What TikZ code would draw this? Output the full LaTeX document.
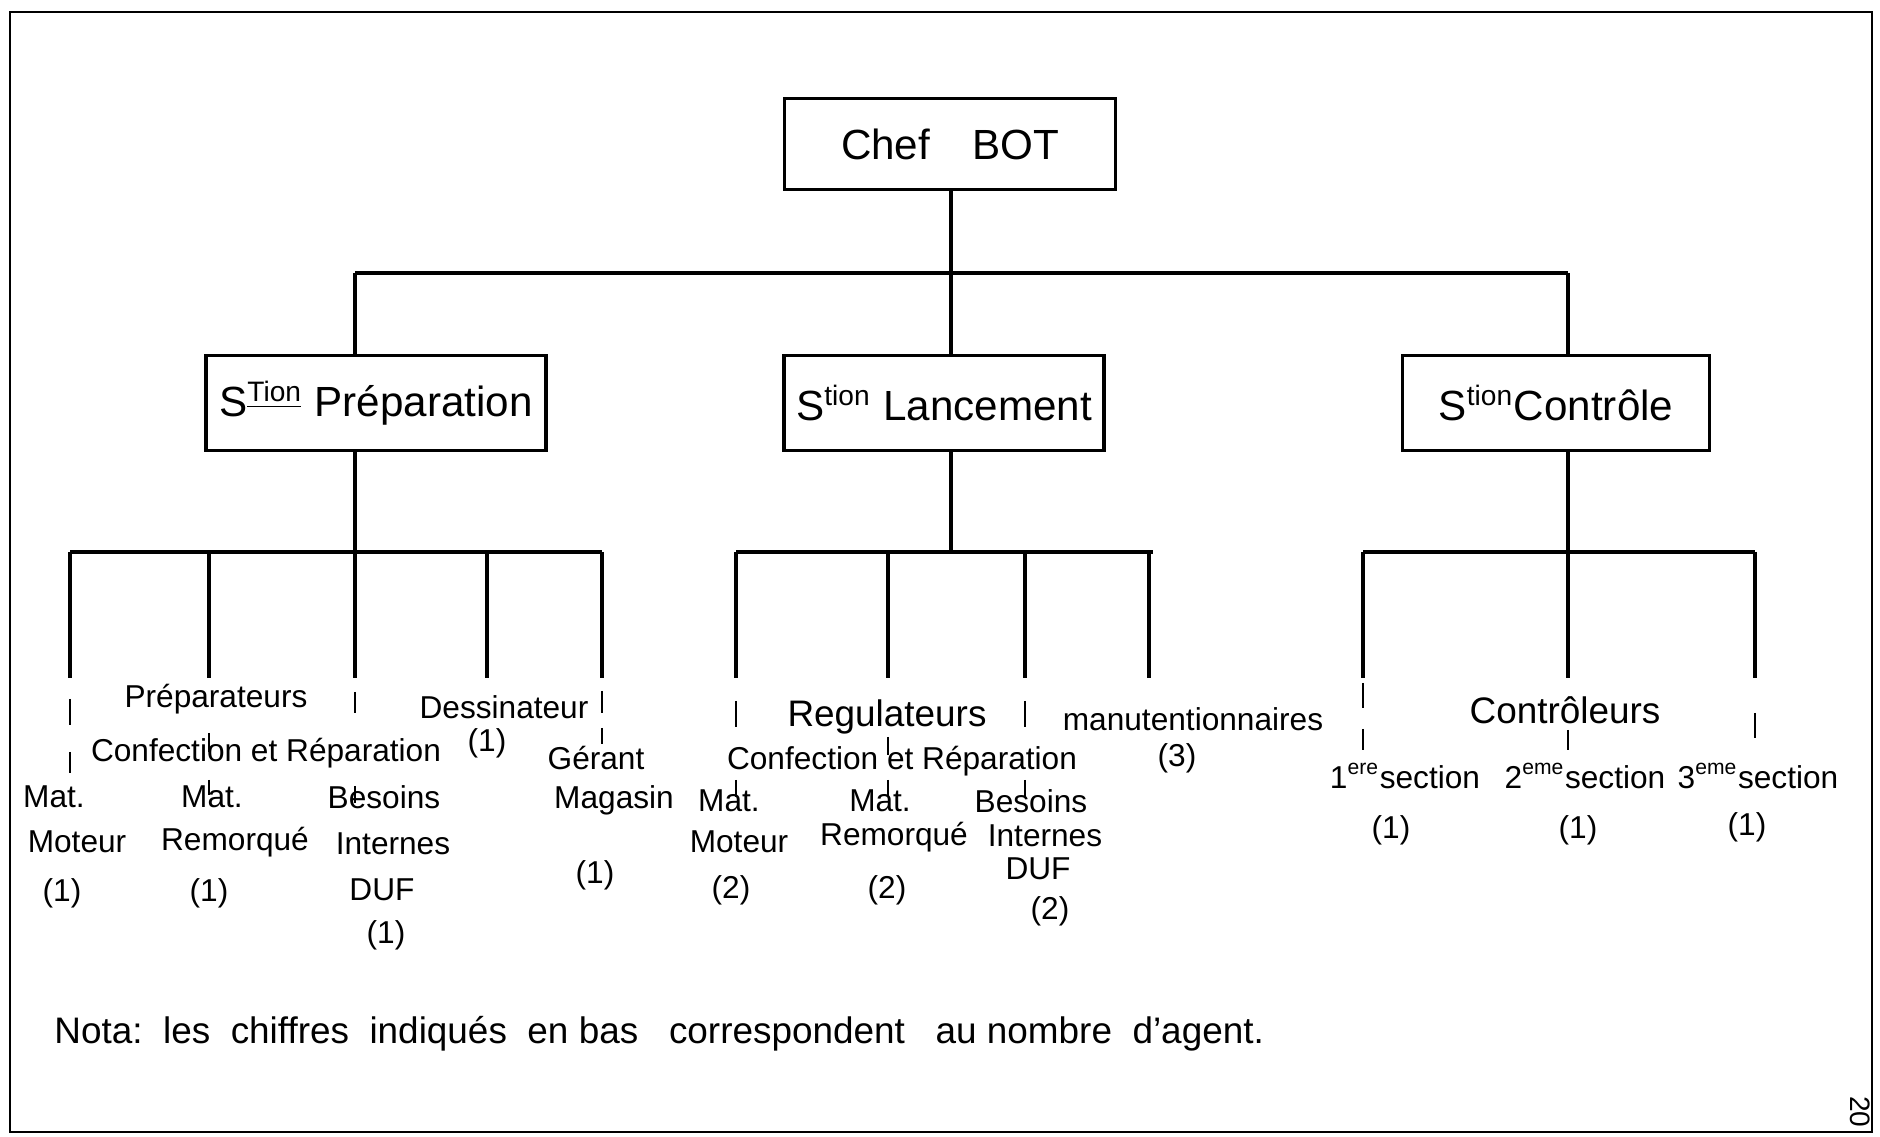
\documentclass[tikz,border=0pt]{standalone}
\usepackage{fontspec}
\setmainfont{Liberation Sans}
\usepackage{tikz}
\usetikzlibrary{positioning,calc}
\tikzset{
  box/.style={draw,line width=1pt,minimum height=9.5mm,inner sep=2pt},
  lnk/.style={line width=0.9pt},
  tck/.style={line width=0.7pt},
  lbl/.style={inner sep=1pt,font=\fontsize{9}{10}\selectfont}
}

\begin{document}
\begin{tikzpicture}[x=0.1mm,y=-0.1mm]
  \useasboundingbox (0,0) rectangle (1880,1137);
  % sheet frame
  \draw[line width=0.8pt] (10,12) rectangle (1872,1132);
  % top of the chart
  \node[box,minimum width=33.1mm,minimum height=9.1mm,font=\fontsize{12}{14}\selectfont] (chef) at (950,144) {Chef\quad BOT};
  % the three sections
  \node[box,minimum width=34mm,font=\fontsize{12}{14}\selectfont] (prep) at (376,403) {S\textsuperscript{\underline{Tion}} Préparation};
  \node[box,minimum width=32mm,font=\fontsize{12}{14}\selectfont] (lanc) at (944,403) {S\textsuperscript{tion} Lancement};
  \node[box,minimum width=30.7mm,font=\fontsize{12}{14}\selectfont] (contr) at (1556,403) {S\textsuperscript{tion}Contrôle};
  % branch points
  \coordinate (cj) at (951,273);
  \coordinate (pj) at (355,273);
  \coordinate (lj) at (951,273);
  \coordinate (rj) at (1568,273);
  \draw[lnk] (chef.south -| cj) -- (cj);
  \draw[lnk] (pj) -- (rj);
  \draw[lnk] (pj) -- (pj |- prep.north);
  \draw[lnk] (lj) -- (lj |- lanc.north);
  \draw[lnk] (rj) -- (rj |- contr.north);
  % sub bars
  \coordinate (pb) at (355,552);
  \coordinate (lb) at (951,552);
  \coordinate (rb) at (1568,552);
  \draw[lnk] (pb |- prep.south) -- (pb);
  \draw[lnk] (lb |- lanc.south) -- (lb);
  \draw[lnk] (rb |- contr.south) -- (rb);
  \draw[lnk] (70,552) -- (602,552);
  \draw[lnk] (736,552) -- (1153,552);
  \draw[lnk] (1363,552) -- (1755,552);
  \foreach \x in {70,209,355,487,602,736,888,1025,1149,1363,1568,1755}
    \draw[lnk] (\x,552) -- (\x,678);
  % short ticks between the labels
  \foreach \x/\a/\b in {70/699/725,70/752/773,209/733/752,209/780/795,355/692/713,355/786/803,
    602/691/713,602/728/744,736/701/727,736/780/797,888/737/755,888/780/797,1025/701/727,1025/780/797,
    1363/683/708,1363/729/750,1568/730/750,1755/713/738}
    \draw[tck] (\x,\a) -- (\x,\b);
  % Preparation staff
  \node[lbl] (prepa) at (216,699) {Préparateurs};
  \node[lbl] (pconf) at (266,753) {Confection et Réparation};
  \node[lbl] (dess) at (504,707) {Dessinateur};
  \node[lbl] (dessn) at (487,743) {(1)};
  \node[lbl] (gm1) at (596,758) {Gérant};
  \node[lbl] (gm2) at (614,800) {Magasin};
  \node[lbl] (gmn) at (595,875) {(1)};
  \node[lbl] (pmm1) at (54,797) {Mat.};
  \node[lbl] (pmm2) at (77,842) {Moteur};
  \node[lbl] (pmmn) at (62,893) {(1)};
  \node[lbl] (pmr1) at (212,797) {Mat.};
  \node[lbl] (pmr2) at (235,842) {Remorqué};
  \node[lbl] (pmrn) at (209,893) {(1)};
  \node[lbl] (pbi1) at (384,797) {Besoins};
  \node[lbl] (pbi2) at (393,844) {Internes};
  \node[lbl] (pbi3) at (382,890) {DUF};
  \node[lbl] (pbin) at (386,935) {(1)};
  % Lancement staff
  \node[lbl,font=\fontsize{10.5}{12}\selectfont] (regu) at (887,717) {Regulateurs};
  \node[lbl] (lconf) at (902,761) {Confection et Réparation};
  \node[lbl] (manu) at (1193,719) {manutentionnaires};
  \node[lbl] (manun) at (1177,758) {(3)};
  \node[lbl] (lmm1) at (729,801) {Mat.};
  \node[lbl] (lmm2) at (739,842) {Moteur};
  \node[lbl] (lmmn) at (731,890) {(2)};
  \node[lbl] (lmr1) at (880,801) {Mat.};
  \node[lbl] (lmr2) at (894,837) {Remorqué};
  \node[lbl] (lmrn) at (887,890) {(2)};
  \node[lbl] (lbi1) at (1031,801) {Besoins};
  \node[lbl] (lbi2) at (1045,836) {Internes};
  \node[lbl] (lbi3) at (1038,869) {DUF};
  \node[lbl] (lbin) at (1050,911) {(2)};
  % Controle staff
  \node[lbl,font=\fontsize{10.5}{12}\selectfont] (ctrl) at (1565,710) {Contrôleurs};
  \node[lbl] (s1) at (1405,776) {1\textsuperscript{ere}section};
  \node[lbl] (s1n) at (1391,830) {(1)};
  \node[lbl] (s2) at (1585,776) {2\textsuperscript{eme}section};
  \node[lbl] (s2n) at (1578,830) {(1)};
  \node[lbl] (s3) at (1758,776) {3\textsuperscript{eme}section};
  \node[lbl] (s3n) at (1747,827) {(1)};
  % note
  \node[anchor=west,font=\fontsize{10.5}{12}\selectfont] (nota) at (42,1034)
    {Nota:\ \ les\ \ chiffres\ \ indiqués\ \ en bas\ \ \ correspondent\ \ \ au nombre\ \ d'agent.};
  \node[rotate=-90,font=\fontsize{8}{9}\selectfont] (page) at (1860,1112) {20};
\end{tikzpicture}
\end{document}
